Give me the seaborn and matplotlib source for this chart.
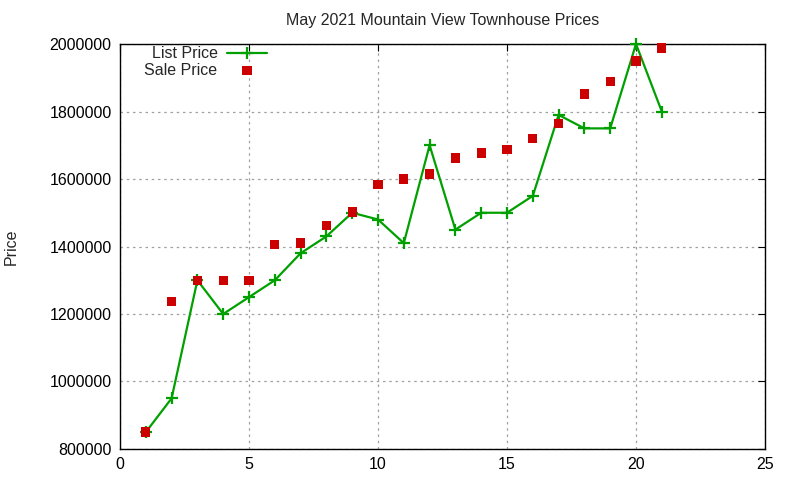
import pandas as pd
import matplotlib
matplotlib.use("Agg")
import matplotlib.pyplot as plt
import seaborn as sns

# datos
house = list(range(1, 22))
list_price = [850000, 950000, 1300000, 1200000, 1250000, 1300000, 1380000, 1430000,
              1500000, 1480000, 1410000, 1700000, 1450000, 1500000, 1500000, 1550000,
              1790000, 1750000, 1750000, 2000000, 1800000]
sale_price = [850000, 1237000, 1300000, 1300000, 1300000, 1405000, 1410000, 1462000,
              1502000, 1583000, 1600000, 1615000, 1662000, 1677000, 1688000, 1720000,
              1765000, 1852000, 1888000, 1950000, 1988000]

df = pd.DataFrame({"n": house, "List Price": list_price, "Sale Price": sale_price})

sns.set_style("white")
plt.rcParams['font.family'] = ['Liberation Sans', 'DejaVu Sans']

fig = plt.figure(figsize=(8, 4.8), dpi=100)
ax = fig.add_axes([0.15, 0.0646, 0.80625, 0.8437])

sns.lineplot(data=df, x="n", y="List Price", ax=ax, color="#00a000", lw=1.6,
             marker="+", markersize=9, markeredgewidth=1.6, markeredgecolor="#00a000",
             label="List Price", clip_on=False)
sns.scatterplot(data=df, x="n", y="Sale Price", ax=ax, color="#cc0000", marker="s",
                s=45, edgecolor="none", label="Sale Price", clip_on=False)

# cuadrados rojos por encima de la linea verde
for ln in ax.lines:
    ln.set_zorder(4)
for c in ax.collections:
    c.set_zorder(6)

ax.set_xlim(0, 25)
ax.set_ylim(800000, 2000000)
ax.set_xticks(range(0, 26, 5))
ax.set_yticks(range(800000, 2000001, 200000))
ax.set_yticklabels([str(v) for v in range(800000, 2000001, 200000)])
ax.grid(True, color="#a0a0a0", linestyle=(0, (2, 3)), lw=0.9)
for s in ax.spines.values():
    s.set_color("black")
    s.set_linewidth(1.0)
ax.tick_params(direction="in", top=True, right=True, length=5, labelsize=11.5,
               color="black", labelcolor="black", pad=6)
ax.set_title("May 2021 Mountain View Townhouse Prices", fontsize=11.5, pad=14)
ax.set_xlabel("")
ax.set_ylabel("Price", fontsize=11.5, labelpad=22)

leg = ax.legend(loc="upper left", bbox_to_anchor=(0.028, 1.01), frameon=False,
                markerfirst=False, fontsize=11.5, handlelength=2.5,
                handletextpad=0.6, borderaxespad=0, labelspacing=0.1)
for t in leg.get_texts():
    t.set_ha("right")

fig.savefig("out.png", dpi=100)
